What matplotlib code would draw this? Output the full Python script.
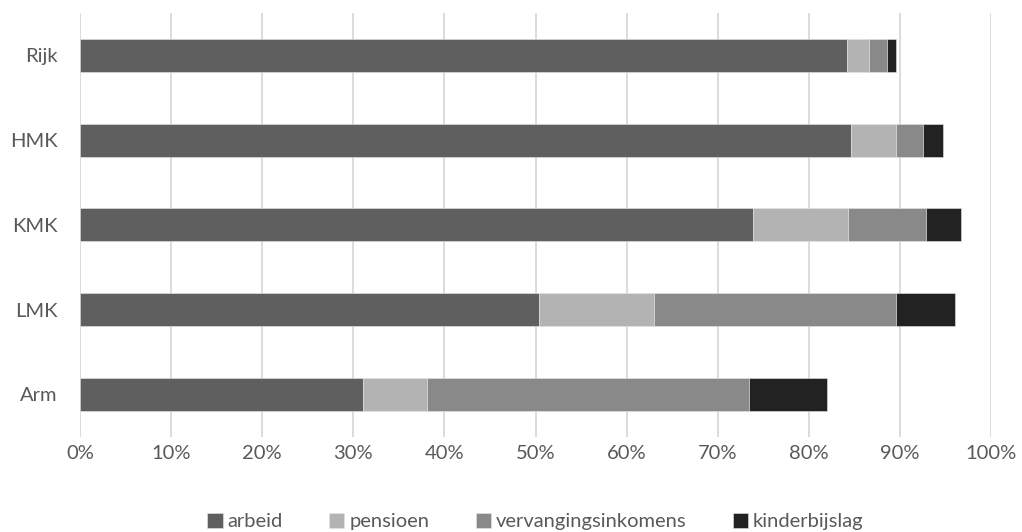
import matplotlib
matplotlib.use("Agg")
import matplotlib.pyplot as plt
from matplotlib.ticker import PercentFormatter

plt.rcParams['font.family'] = ['Lato', 'DejaVu Sans']

categories = ["Rijk", "HMK", "KMK", "LMK", "Arm"]
series = ["arbeid", "pensioen", "vervangingsinkomens", "kinderbijslag"]
arbeid = [84.2, 84.6, 73.9, 50.4, 31.1]
pensioen = [2.4, 5.0, 10.4, 12.6, 7.0]
vervanging = [2.0, 2.9, 8.6, 26.6, 35.3]
kinderbijslag = [1.0, 2.2, 3.8, 6.5, 8.6]
colors = ["#5f5f5f", "#b3b3b3", "#898989", "#222222"]

fig = plt.figure(figsize=(10.22, 5.32), dpi=100)
ax = fig.add_axes([80 / 1022, 1 - 436.75 / 532, 911 / 1022, 423.75 / 532])

ypos = list(range(len(categories)))[::-1]
left = [0.0] * len(categories)
for name, vals, col in zip(series, [arbeid, pensioen, vervanging, kinderbijslag], colors):
    ax.barh(ypos, vals, left=left, height=0.39, color=col, label=name,
            edgecolor="#e6e6e6", linewidth=0.4, zorder=3)
    left = [a + b for a, b in zip(left, vals)]

ax.set_xlim(0, 100)
ax.set_ylim(-0.5, 4.5)
ax.set_xticks(range(0, 101, 10))
ax.xaxis.set_major_formatter(PercentFormatter(decimals=0))
ax.set_yticks(ypos)
ax.set_yticklabels(categories)
ax.grid(axis="x", color="#d9d9d9", linewidth=1.3, zorder=0)
for s in ax.spines.values():
    s.set_visible(False)
ax.tick_params(length=0, labelsize=14.5, colors="#595959")
ax.tick_params(axis="x", pad=6)
ax.tick_params(axis="y", pad=16)

ax.legend(loc="center", bbox_to_anchor=(0.5, -0.2), ncol=4, frameon=False,
          fontsize=14.5, labelcolor="#595959", handlelength=0.75, handleheight=0.75,
          handletextpad=0.25, columnspacing=2.3)

fig.savefig("out.png", dpi=100)
